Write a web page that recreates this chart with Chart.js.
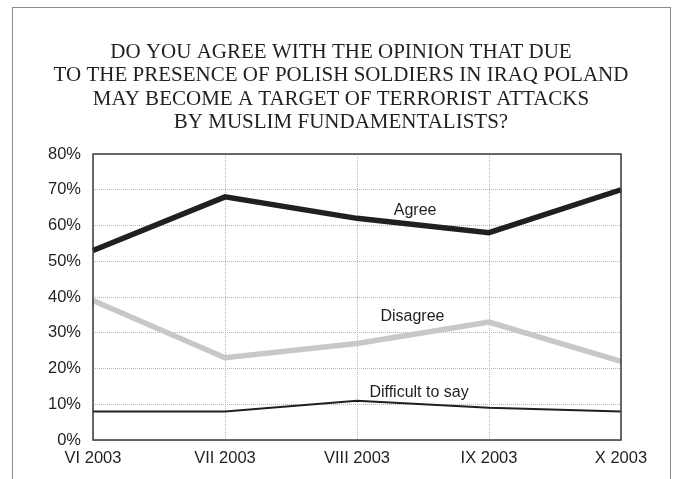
<!DOCTYPE html>
<html lang="en">
<head>
  <meta charset="UTF-8" />
  <title>Poland as a target of terrorist attacks</title>
  <script src="https://cdn.jsdelivr.net/npm/chart.js"></script>
  <style>
    html, body {
      margin: 0;
      padding: 0;
      background: #fff;
      overflow: hidden;
    }
    .frame {
      position: absolute;
      left: 12px;
      top: 7px;
      width: 657px;
      height: 500px;
      border: 1.5px solid #8a8a8a;
    }
    .chart-box {
      position: absolute;
      left: 0;
      top: 0;
      width: 678px;
      height: 479px;
    }
  </style>
</head>
<body>
  <div class="frame"></div>
  <div class="chart-box">
    <canvas id="opinionChart"></canvas>
  </div>

  <script>
    const months = ["VI 2003", "VII 2003", "VIII 2003", "IX 2003", "X 2003"];
    const agree = [53, 68, 62, 58, 70];
    const disagree = [39, 23, 27, 33, 22];
    const difficult = [8, 8, 11, 9, 8];
    const yTicks = [0, 10, 20, 30, 40, 50, 60, 70, 80];

    const titleLines = [
      "DO YOU AGREE WITH THE OPINION THAT DUE",
      "TO THE PRESENCE OF POLISH SOLDIERS IN IRAQ POLAND",
      "MAY BECOME A TARGET OF TERRORIST ATTACKS",
      "BY MUSLIM FUNDAMENTALISTS?"
    ];

    // series names written next to their lines: [text, category position, value]
    const seriesLabels = [
      ["Agree", 2.44, 64.3],
      ["Disagree", 2.42, 34.4],
      ["Difficult to say", 2.47, 13.4]
    ];

    const ink = "#231f20";
    const sans = "'Liberation Sans', Arial, sans-serif";

    // serif heading, centred over the page rather than the plot
    const headingPlugin = {
      id: "heading",
      afterDraw(chart) {
        const { ctx } = chart;
        ctx.save();
        ctx.font = "21px 'Liberation Serif', 'Times New Roman', serif";
        ctx.fillStyle = ink;
        ctx.textAlign = "center";
        ctx.textBaseline = "alphabetic";
        titleLines.forEach((line, i) => ctx.fillText(line, 341, 57.5 + i * 23.6));
        ctx.restore();
      }
    };

    const seriesLabelPlugin = {
      id: "seriesLabels",
      afterDatasetsDraw(chart) {
        const { ctx, scales: { x, y } } = chart;
        ctx.save();
        ctx.font = "16px " + sans;
        ctx.fillStyle = ink;
        ctx.textAlign = "center";
        ctx.textBaseline = "middle";
        seriesLabels.forEach(([text, pos, val]) => {
          ctx.fillText(text, x.getPixelForValue(pos), y.getPixelForValue(val));
        });
        ctx.restore();
      }
    };

    // solid frame round the plot area
    const plotFramePlugin = {
      id: "plotFrame",
      afterDraw(chart) {
        const { ctx, chartArea: a } = chart;
        ctx.save();
        ctx.strokeStyle = "#3a3a3a";
        ctx.lineWidth = 1.5;
        ctx.strokeRect(a.left, a.top, a.right - a.left, a.bottom - a.top);
        ctx.restore();
      }
    };

    new Chart(document.getElementById("opinionChart"), {
      type: "line",
      data: {
        labels: months,
        datasets: [
          { label: "Agree", data: agree, borderColor: ink, borderWidth: 5.5 },
          { label: "Disagree", data: disagree, borderColor: "#c8c8c8", borderWidth: 5.5 },
          { label: "Difficult to say", data: difficult, borderColor: ink, borderWidth: 2 }
        ]
      },
      options: {
        responsive: true,
        maintainAspectRatio: false,
        animation: false,
        elements: {
          point: { radius: 0 },
          line: { tension: 0, borderCapStyle: "butt", borderJoinStyle: "miter" }
        },
        layout: { padding: { left: 0, right: 57, top: 154, bottom: 0 } },
        plugins: {
          legend: { display: false },
          tooltip: { enabled: false },
          title: { display: false }
        },
        scales: {
          x: {
            offset: false,
            grid: { color: "#b5b5b5", drawTicks: false },
            border: { display: false, dash: [1, 1] },
            ticks: {
              color: ink,
              padding: 9,
              maxRotation: 0,
              font: { family: sans, size: 16.5 }
            },
            afterFit(scale) { scale.height = 39; }
          },
          y: {
            min: 0,
            max: 80,
            afterBuildTicks(scale) { scale.ticks = yTicks.map(v => ({ value: v })); },
            grid: { color: "#b5b5b5", drawTicks: false },
            border: { display: false, dash: [1, 1] },
            ticks: {
              color: ink,
              padding: 12,
              font: { family: sans, size: 16.5 },
              callback: v => v + "%"
            },
            afterFit(scale) { scale.width = 93; }
          }
        }
      },
      plugins: [headingPlugin, seriesLabelPlugin, plotFramePlugin]
    });
  </script>
</body>
</html>
